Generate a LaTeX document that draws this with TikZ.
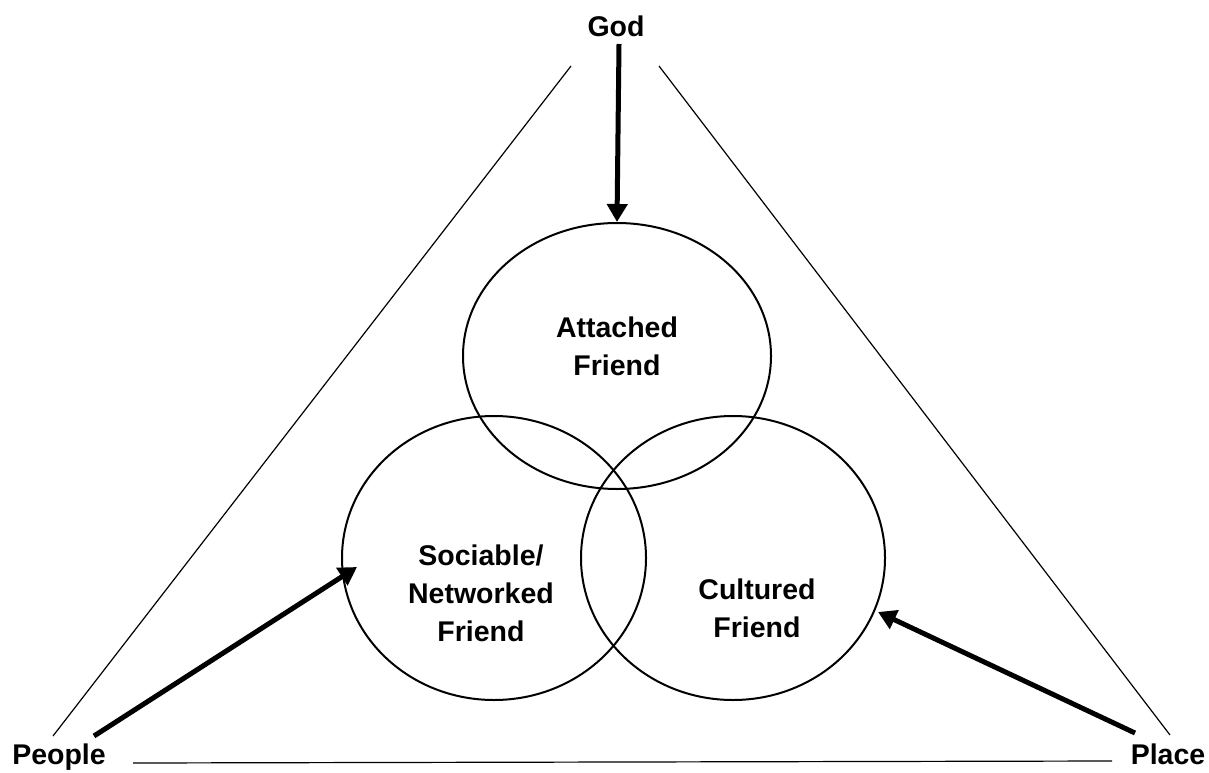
\documentclass[tikz,border=0pt]{standalone}
\usepackage{fontspec}
\setmainfont{Liberation Sans}
\usetikzlibrary{arrows.meta,shapes.geometric}
\begin{document}
\begin{tikzpicture}[x=1pt,y=-1pt,
  lbl/.style={font=\bfseries\fontsize{28.5}{38}\selectfont,inner sep=0pt,align=center},
  ring/.style={draw,ellipse,line width=2pt,inner sep=0pt},
  edge/.style={line width=1.2pt},
  push/.style={line width=5pt,-{Triangle[length=18pt,width=20pt]}}]
\useasboundingbox (0,0) rectangle (1209,773);

% the three overlapping friendship types
\node[ring,minimum width=308pt,minimum height=266pt] (att) at (617,356) {};
\node[ring,minimum width=304pt,minimum height=284pt] (soc) at (494,558) {};
\node[ring,minimum width=304pt,minimum height=284pt] (cul) at (733,558) {};

\node[lbl] (attT) at (617,346) {Attached\\Friend};
\node[lbl] (socT) at (481,593) {Sociable/\\Networked\\Friend};
\node[lbl] (culT) at (757,608) {Cultured\\Friend};

% corner labels
\node[lbl,anchor=base] (god) at (616,37) {God};
\node[lbl,anchor=base] (people) at (59,764) {People};
\node[lbl,anchor=base] (place) at (1168,764) {Place};

% triangle sides
\coordinate (lt) at (571,66);
\coordinate (lb) at (53,736);
\coordinate (rt) at (659,66);
\coordinate (rb) at (1170,735);
\coordinate (bl) at (133,763);
\coordinate (br) at (1112,761);
\draw[edge] (lt) -- (lb);
\draw[edge] (rt) -- (rb);
\draw[edge] (bl) -- (br);

% influences
\coordinate (godS) at (619,44);
\coordinate (peopleS) at (94,736);
\coordinate (placeS) at (1135,733);
\draw[push] (godS) -- (att.north);
\draw[push] (peopleS) -- (357,567);
\draw[push] (placeS) -- (878,612);
\end{tikzpicture}
\end{document}
